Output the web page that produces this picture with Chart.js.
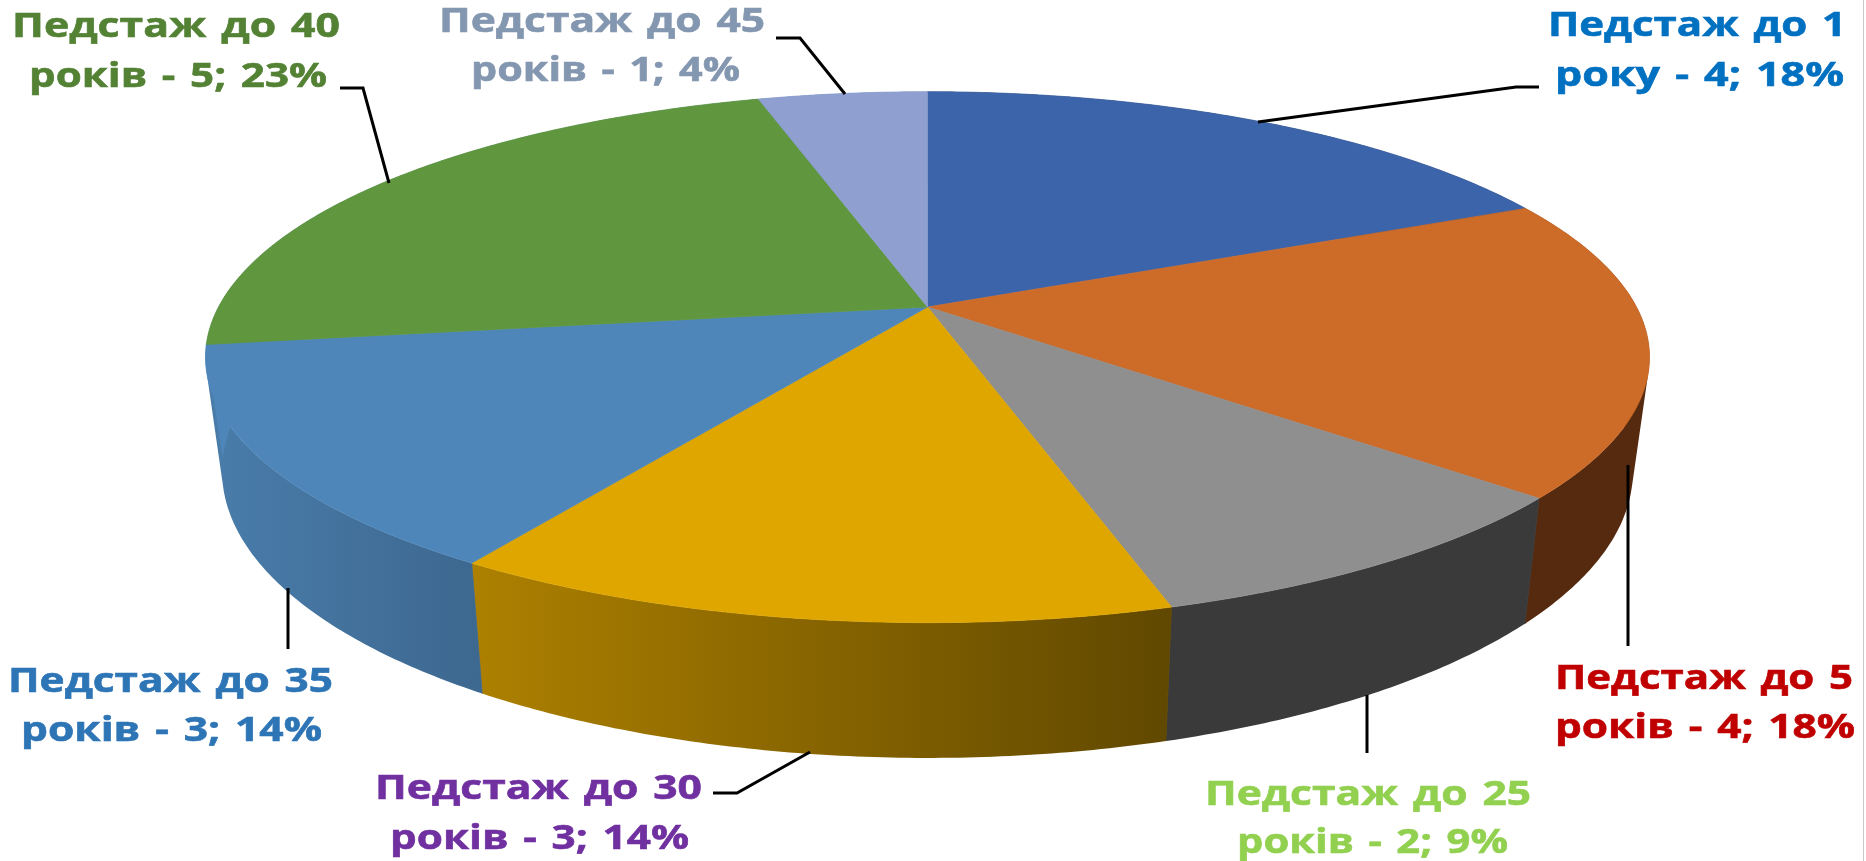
<!DOCTYPE html>
<html lang="uk">
<head>
<meta charset="utf-8">
<style>html,body{margin:0;padding:0;background:#fff;overflow:hidden}canvas{display:block}</style>
<script src="https://cdn.jsdelivr.net/npm/chart.js@4/dist/chart.umd.min.js"></script>
</head>
<body>
<canvas id="c" width="1866" height="861"></canvas>
<script>
const categories = ["Педстаж до 1", "Педстаж до 5", "Педстаж до 25", "Педстаж до 30", "Педстаж до 35", "Педстаж до 40", "Педстаж до 45"];
const units = ["року", "років", "років", "років", "років", "років", "років"];
const values = [4, 4, 2, 3, 3, 5, 1];
const percents = [18, 18, 9, 14, 14, 23, 4];
const topColors = ["#3b64ab", "#cd6b29", "#8f8f8f", "#dfa600", "#4e86ba", "#5f963e", "#8e9fd0"];
const wallColors = [["#552a0e","#552a0e"],["#552a0e","#552a0e"],["#3a3a3a","#3a3a3a"],["#ad8000","#604800"],["#4a7dab","#3d6890"],["#4e86ba","#4e86ba"],["#4e86ba","#4e86ba"]];
const textColors = ["#0070c0", "#c00000", "#92d050", "#7030a0", "#2e75b6", "#548235", "#8497b0"];

// Perspective of the tilted disc
const CX = 927.5, CY = 307, AX = 709, BY = 256, K = 0.189;
const WX = 0.977, WY = 1.08, WD = 110;
function rim(a) {               // a = Chart.js arc angle
  const t = a + Math.PI / 2, s = Math.sin(t), c = Math.cos(t), d = 1 + K * c;
  return [AX * s / d, -BY * c / d];
}
function polyRim(a0, a1, fn) {
  const n = Math.max(4, Math.ceil((a1 - a0) / 0.01)), out = [];
  for (let i = 0; i <= n; i++) out.push(fn(rim(a0 + (a1 - a0) * i / n)));
  return out;
}
const topPt = p => [CX + p[0], CY + p[1]];
const botPt = p => [CX + WX * p[0], CY + WY * p[1] + WD];

// Text boxes: [left, right, baseline] for both lines of every label
const labelBoxes = [
  [[1548,1846,36],[1555,1844,86]],
  [[1555,1853,689],[1555,1855,738]],
  [[1205,1531,805],[1237,1508,853]],
  [[375,702,799],[390,689,849]],
  [[8,333,692],[21,322,741]],
  [[12,340,37],[29,327,87]],
  [[439,765,32],[471,740,81]]
];
const leaders = [
  [[1258,122],[1516,87],[1539,87]],
  [[1628,465],[1628,646]],
  [[1367,695],[1367,753]],
  [[810,752],[737,793],[713,793]],
  [[288,588],[288,649]],
  [[389,183],[363,88],[340,88]],
  [[845,94],[800,38],[776,38]]
];

const pie3d = {
  id: "pie3d",
  beforeDatasetsDraw(chart) {
    const ctx = chart.ctx, arcs = chart.getDatasetMeta(0).data;
    ctx.save();
    ctx.lineJoin = "round";
    // walls: a sweep of small, equally oriented quads in one path; the top faces cover what is behind them
    arcs.forEach((arc, i) => {
      const t = polyRim(arc.startAngle, arc.endAngle, topPt);
      const b = polyRim(arc.startAngle, arc.endAngle, botPt);
      const xs = t.map(p => p[0]);
      const g = ctx.createLinearGradient(Math.min(...xs), 0, Math.max(...xs), 0);
      g.addColorStop(0, wallColors[i][0]);
      g.addColorStop(1, wallColors[i][1]);
      ctx.beginPath();
      for (let k = 0; k + 1 < t.length; k++) {
        let q = [t[k], t[k + 1], b[k + 1], b[k]];
        let area = 0;
        q.forEach((p, j) => { const r = q[(j + 1) % 4]; area += p[0] * r[1] - r[0] * p[1]; });
        if (area < 0) q = q.reverse();
        q.forEach((p, j) => j ? ctx.lineTo(p[0], p[1]) : ctx.moveTo(p[0], p[1]));
        ctx.closePath();
      }
      ctx.fillStyle = g;
      ctx.fill("nonzero");
      // close the seam at the slice's two ends
      ctx.strokeStyle = g; ctx.lineWidth = 0.8;
      ctx.beginPath();
      ctx.moveTo(t[0][0], t[0][1]); ctx.lineTo(b[0][0], b[0][1]);
      ctx.moveTo(t[t.length - 1][0], t[t.length - 1][1]); ctx.lineTo(b[b.length - 1][0], b[b.length - 1][1]);
      ctx.stroke();
    });
    // top faces
    arcs.forEach((arc, i) => {
      const t = polyRim(arc.startAngle, arc.endAngle, topPt);
      ctx.beginPath();
      ctx.moveTo(CX, CY);
      t.forEach(p => ctx.lineTo(p[0], p[1]));
      ctx.closePath();
      ctx.fillStyle = topColors[i]; ctx.strokeStyle = topColors[i]; ctx.lineWidth = 0.7;
      ctx.fill(); ctx.stroke();
    });
    // leader lines
    ctx.strokeStyle = "#000"; ctx.lineWidth = 3; ctx.lineJoin = "miter";
    leaders.forEach(l => {
      ctx.beginPath();
      l.forEach((p, j) => j ? ctx.lineTo(p[0], p[1]) : ctx.moveTo(p[0], p[1]));
      ctx.stroke();
    });
    // labels
    ctx.font = "700 34px 'Open Sans'";
    ctx.wordSpacing = "3px";
    ctx.textBaseline = "alphabetic"; ctx.textAlign = "left";
    categories.forEach((cat, i) => {
      const lines = [cat, `${units[i]} - ${values[i]}; ${percents[i]}%`];
      ctx.fillStyle = textColors[i];
      ctx.strokeStyle = textColors[i]; ctx.lineWidth = 0.6;
      lines.forEach((txt, j) => {
        const [x0, x1, y] = labelBoxes[i][j];
        const sx = (x1 - x0) / ctx.measureText(txt).width;
        ctx.save();
        ctx.translate(x0, y); ctx.scale(sx, 1);
        ctx.fillText(txt, 0, 0);
        ctx.strokeText(txt, 0, 0);
        ctx.restore();
      });
    });
    // thin frame remnant at the right edge
    ctx.fillStyle = "#c8c8c8";
    ctx.fillRect(1863, 0, 1, 861);
    ctx.restore();
    return false;
  }
};

new Chart(document.getElementById("c"), {
  type: "pie",
  data: {
    labels: categories,
    datasets: [{ data: values, backgroundColor: topColors, borderWidth: 0 }]
  },
  options: {
    responsive: false,
    animation: false,
    events: [],
    plugins: { legend: { display: false }, tooltip: { enabled: false } }
  },
  plugins: [pie3d]
});
</script>
</body>
</html>
